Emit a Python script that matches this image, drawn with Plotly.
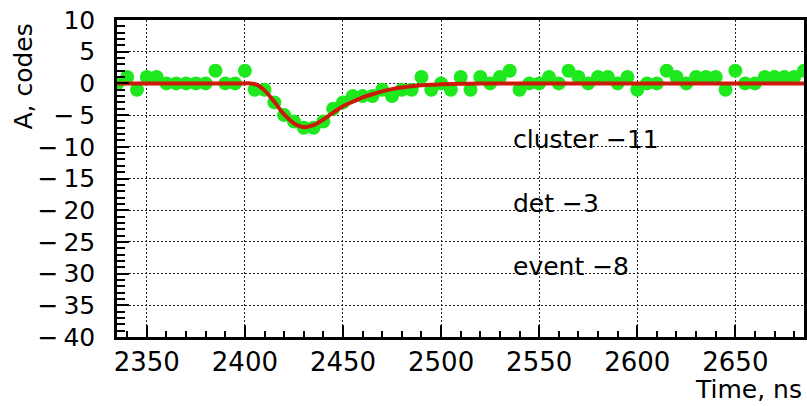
import plotly.graph_objects as go

# ---- data ----
time_ns = [2335, 2340, 2345, 2350, 2355, 2360, 2365, 2370, 2375, 2380,
           2385, 2390, 2395, 2400, 2405, 2410, 2415, 2420, 2425, 2430,
           2435, 2440, 2445, 2450, 2455, 2460, 2465, 2470, 2475, 2480,
           2485, 2490, 2495, 2500, 2505, 2510, 2515, 2520, 2525, 2530,
           2535, 2540, 2545, 2550, 2555, 2560, 2565, 2570, 2575, 2580,
           2585, 2590, 2595, 2600, 2605, 2610, 2615, 2620, 2625, 2630,
           2635, 2640, 2645, 2650, 2655, 2660, 2665, 2670, 2675, 2680,
           2685]
amp_codes = [0, 1, -1, 1, 1, 0, 0, 0, 0, 0,
             2, 0, 0, 2, -1, -1, -3, -5, -6, -7,
             -7, -6, -4, -3, -2, -2, -2, -1, -2, -1,
             -1, 1, -1, 0, -1, 1, -1, 1, 0, 1,
             2, -1, 0, 0, 1, 0, 2, 1, 0, 1,
             1, 0, 1, -1, 0, 0, 2, 1, 0, 1,
             1, 1, -1, 2, 0, 0, 1, 1, 1, 1,
             2]

fit_t = [2335, 2350, 2375, 2400, 2403, 2406, 2410, 2415, 2420, 2425,
         2430, 2435, 2440, 2445, 2450, 2455, 2460, 2465, 2470, 2475,
         2480, 2485, 2490, 2495, 2500, 2510, 2520, 2530, 2550, 2600,
         2650, 2685]
fit_v = [0, 0, 0, 0, 0, -0.2, -1.1, -2.9, -4.9, -6.3,
         -6.9, -6.6, -5.7, -4.6, -3.6, -2.9, -2.2, -1.7, -1.25, -0.9,
         -0.65, -0.45, -0.3, -0.2, -0.15, -0.06, -0.02, 0, 0, 0,
         0, 0]

y_tick_vals = [-40, -35, -30, -25, -20, -15, -10, -5, 0, 5, 10]
y_tick_text = ["\u2212\u200940", "\u2212\u200935", "\u2212\u200930",
               "\u2212\u200925", "\u2212\u200920", "\u2212\u200915",
               "\u2212\u200910", "\u2212\u20095", "0", "5", "10"]
x_tick_vals = [2350, 2400, 2450, 2500, 2550, 2600, 2650]
x_tick_text = ["2350", "2400", "2450", "2500", "2550", "2600", "2650"]

labels = ["cluster \u221211", "det \u22123", "event \u22128"]
label_y = [-8.8, -18.9, -28.9]
label_x = 2535.5

x_title = "Time, ns"
y_title = "A, codes"

FONT = "DejaVu Sans"

fig = go.Figure()
fig.add_trace(go.Scatter(
    x=time_ns, y=amp_codes, mode="markers",
    marker=dict(color="#1ee81e", size=14, line=dict(width=0)),
    hoverinfo="skip"))
fig.add_trace(go.Scatter(
    x=fit_t, y=fit_v, mode="lines",
    line=dict(color="#cc1a0a", width=4, shape="spline", smoothing=0.8),
    hoverinfo="skip"))

annotations = []
for txt, yy in zip(labels, label_y):
    annotations.append(dict(x=label_x, y=yy, xref="x", yref="y", text=txt,
                            showarrow=False, xanchor="left", yanchor="middle",
                            font=dict(family=FONT, size=25, color="black")))
annotations.append(dict(x=1.0, y=-0.166, xref="paper", yref="paper",
                        text=x_title, showarrow=False, xanchor="right",
                        yanchor="middle",
                        font=dict(family=FONT, size=25, color="black")))
annotations.append(dict(x=-0.1362, y=0.823, xref="paper", yref="paper",
                        text=y_title, showarrow=False, textangle=-90,
                        xanchor="center", yanchor="middle",
                        font=dict(family=FONT, size=25, color="black")))

fig.update_layout(
    width=807, height=406,
    margin=dict(l=117, r=0, t=20, b=69, pad=0),
    paper_bgcolor="white", plot_bgcolor="white",
    showlegend=False,
    annotations=annotations,
    xaxis=dict(
        range=[2334.8, 2685], tickmode="array",
        tickvals=x_tick_vals, ticktext=x_tick_text,
        showline=True, linecolor="black", linewidth=2.5, mirror=True,
        ticks="inside", ticklen=12, tickwidth=1.5, tickcolor="black",
        showgrid=True, gridcolor="#222", gridwidth=1, griddash="2px,2px",
        zeroline=False,
        tickfont=dict(family=FONT, size=26, color="black"),
        minor=dict(dtick=10, tick0=2350, ticks="inside", ticklen=6,
                   tickwidth=1.5, tickcolor="black", showgrid=False),
    ),
    yaxis=dict(
        range=[-40, 10], tickmode="array",
        tickvals=y_tick_vals, ticktext=y_tick_text,
        showline=True, linecolor="black", linewidth=2.5, mirror=True,
        ticks="inside", ticklen=12, tickwidth=1.5, tickcolor="black",
        showgrid=True, gridcolor="#222", gridwidth=1, griddash="2px,2px",
        zeroline=False, ticklabelstandoff=14,
        tickfont=dict(family=FONT, size=25, color="black"),
        minor=dict(dtick=1, tick0=-40, ticks="inside", ticklen=8,
                   tickwidth=1.5, tickcolor="black", showgrid=False),
    ),
)

fig.write_html("out.html")
